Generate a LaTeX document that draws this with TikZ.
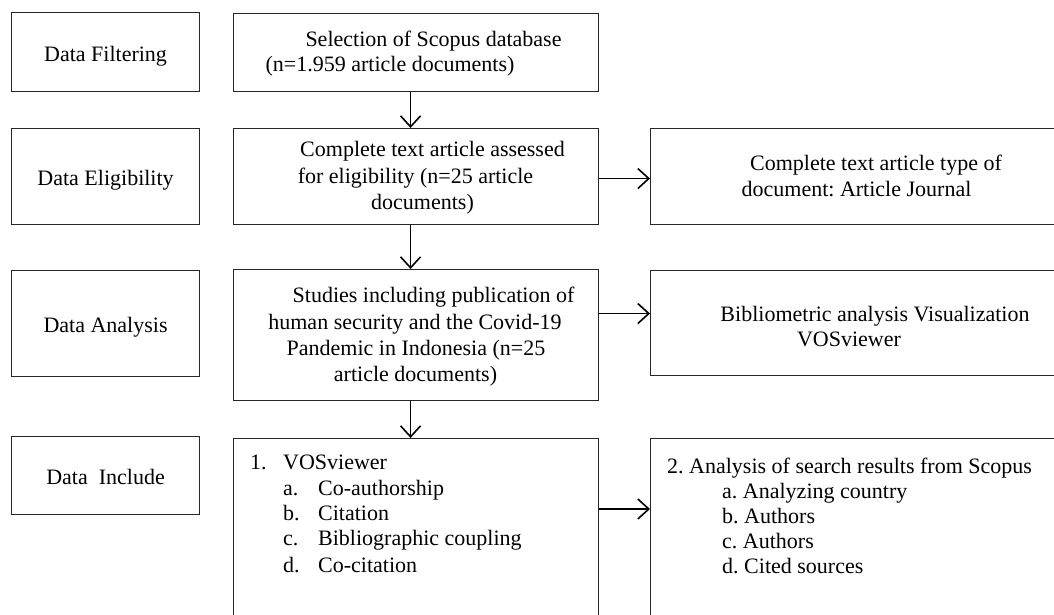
\documentclass[tikz,border=0pt]{standalone}
\usepackage{fontspec}
\setmainfont{Liberation Serif}
\usetikzlibrary{arrows.meta}
\frenchspacing
\begin{document}
\begin{tikzpicture}[x=1pt,y=-1pt,
  box/.style={draw=black!85, line width=1.1pt, rectangle, inner sep=0pt, anchor=north west},
  lab/.style={font=\fontsize{22}{26}\selectfont, text height=18pt, text depth=0pt},
  ln/.style={font=\fontsize{22}{26}\selectfont, anchor=base, inner sep=0pt},
  lnw/.style={ln, anchor=base west},
  arr/.style={line width=1.8pt, -{Straight Barb[length=11pt,width=20pt,line width=1.6pt]}}]
\clip (0,0) rectangle (1054,615);
% left stage labels
\node[box, lab, minimum width=188pt, minimum height=79pt] (lf) at (11,12) {Data Filtering};
\node[box, lab, minimum width=188pt, minimum height=96pt] (le) at (11,128) {Data Eligibility};
\node[box, lab, minimum width=188pt, minimum height=106pt] (la) at (11,270) {Data Analysis};
\node[box, lab, minimum width=188pt, minimum height=78pt] (li) at (11,436) {Data\ \ Include};
% middle boxes
\node[box, minimum width=365pt, minimum height=78pt] (ms) at (233,13) {};
\node[box, minimum width=365pt, minimum height=96pt] (mc) at (233,128) {};
\node[box, minimum width=365pt, minimum height=131pt] (mst) at (233,269) {};
\node[box, minimum width=365pt, minimum height=260pt] (mv) at (233,438) {};
% right boxes
\node[box, minimum width=450pt, minimum height=96pt] (rt) at (650,128) {};
\node[box, minimum width=450pt, minimum height=105pt] (rb) at (650,270) {};
\node[box, minimum width=450pt, minimum height=260pt] (ra) at (650,438) {};
% texts
\node[ln] (s1) at (433.5,47) {Selection of Scopus database};
\node[ln] (s2) at (390,72) {(n=1.959 article documents)};
\node[ln] (c1) at (432.5,157) {Complete text article assessed};
\node[ln] (c2) at (415.5,183) {for eligibility (n=25 article};
\node[ln] (c3) at (422.5,209) {documents)};
\node[ln] (st1) at (433.5,302) {Studies including publication of};
\node[ln] (st2) at (415,329) {human security and the Covid-19};
\node[ln] (st3) at (416,355) {Pandemic in Indonesia (n=25};
\node[ln] (st4) at (415.5,381) {article documents)};
\node[ln] (t1) at (876,170) {Complete text article type of};
\node[ln] (t2) at (856.5,196) {document: Article Journal};
\node[ln] (b1) at (875,321) {Bibliometric analysis Visualization};
\node[ln] (b2) at (849,346) {VOSviewer};
\node[lnw] (v0n) at (250,469) {1.};
\node[lnw] (v0) at (283,469) {VOSviewer};
\node[lnw] (van) at (283,495) {a.};
\node[lnw] (va) at (318,495) {Co-authorship};
\node[lnw] (vbn) at (283,520) {b.};
\node[lnw] (vb) at (318,520) {Citation};
\node[lnw] (vcn) at (283,545) {c.};
\node[lnw] (vc) at (318,545) {Bibliographic coupling};
\node[lnw] (vdn) at (283,572) {d.};
\node[lnw] (vd) at (318,572) {Co-citation};
\node[lnw] (a0) at (667,473) {2. Analysis of search results from Scopus};
\node[lnw] (aa) at (722,498) {a. Analyzing country};
\node[lnw] (ab) at (722,523) {b. Authors};
\node[lnw] (ac) at (722,548) {c. Authors};
\node[lnw] (ad) at (722,573) {d. Cited sources};
% connectors
\draw[arr] ([xshift=-5.5pt]ms.south) -- ([xshift=-5.5pt]mc.north);
\draw[arr] ([xshift=-5.5pt]mc.south) -- ([xshift=-5.5pt]mst.north);
\draw[arr] ([xshift=-5.5pt]mst.south) -- ([xshift=-5.5pt]mv.north);
\draw[arr] ([yshift=-2pt]mc.east) -- ([yshift=-2pt]rt.west);
\draw[arr] ([yshift=21.5pt]mst.east) -- ([yshift=9.5pt]rb.west);
\draw[arr] ([yshift=-71pt]mv.north east) -- ([yshift=-71pt]ra.north west);
\end{tikzpicture}
\end{document}
